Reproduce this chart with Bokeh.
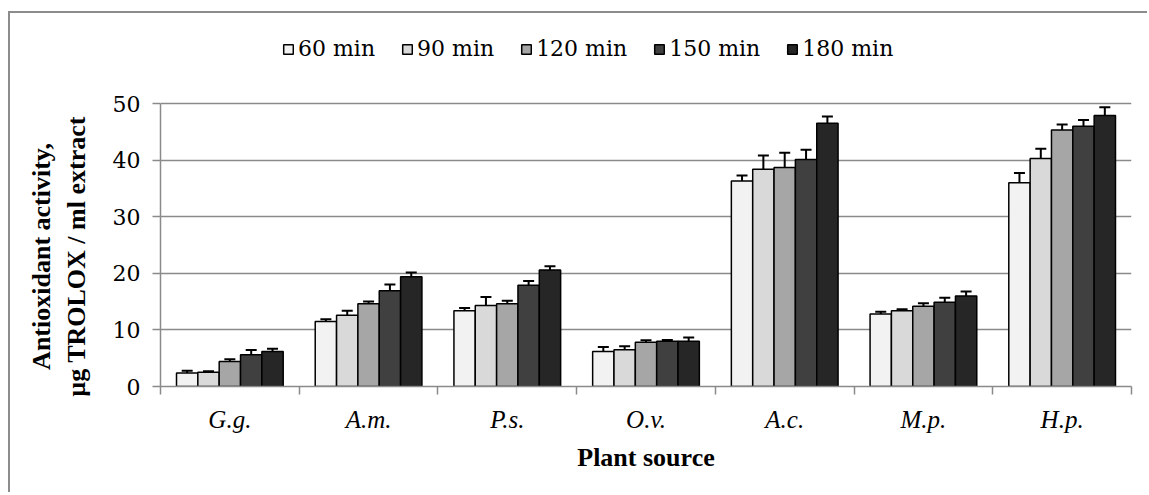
from bokeh.plotting import figure
from bokeh.models import ColumnDataSource, Whisker, TeeHead, Legend, LegendItem, FixedTicker, Range1d
from bokeh.embed import file_html
from bokeh.resources import INLINE

categories = ["G.g.", "A.m.", "P.s.", "O.v.", "A.c.", "M.p.", "H.p."]
series = ["60 min", "90 min", "120 min", "150 min", "180 min"]
colors = ["#f2f2f2", "#d9d9d9", "#a6a6a6", "#404040", "#262626"]

v60 = [2.4, 11.5, 13.4, 6.2, 36.3, 12.8, 36.0]
v90 = [2.5, 12.6, 14.3, 6.5, 38.4, 13.4, 40.3]
v120 = [4.4, 14.6, 14.6, 7.8, 38.7, 14.2, 45.3]
v150 = [5.6, 16.9, 17.9, 8.0, 40.1, 14.9, 46.0]
v180 = [6.2, 19.4, 20.6, 8.0, 46.5, 16.0, 47.9]

e60 = [0.4, 0.4, 0.45, 0.8, 1.0, 0.4, 1.7]
e90 = [0.2, 0.8, 1.5, 0.6, 2.4, 0.25, 1.7]
e120 = [0.4, 0.4, 0.55, 0.35, 2.6, 0.5, 1.0]
e150 = [0.85, 1.1, 0.75, 0.2, 1.75, 0.8, 1.1]
e180 = [0.45, 0.75, 0.65, 0.65, 1.2, 0.8, 1.45]

yticks = [0, 10, 20, 30, 40, 50]

values = [v60, v90, v120, v150, v180]
errors = [e60, e90, e120, e150, e180]

FONT = "Liberation Serif"
REG_FONT = "DejaVu Serif"
GRID = "#8a8a8a"

TOP_B, BOT_B, H = 9, 108, 481
frame_h = H - TOP_B - BOT_B
y_end = 50 * frame_h / 283.0

p = figure(width=1139, height=H, output_backend="svg", toolbar_location=None,
           x_range=Range1d(0, len(categories)), y_range=Range1d(0, y_end),
           min_border_left=150, min_border_right=18, min_border_top=TOP_B, min_border_bottom=BOT_B)
p.styles = {"border-top": "2px solid #8c8c8c", "border-left": "2px solid #8c8c8c",
            "margin-top": "11px", "margin-left": "8px"}
p.outline_line_color = None
p.background_fill_color = "white"
p.border_fill_color = "white"

bw = 1.0 / 6.5
items = []
for j, (name, col, vals, errs) in enumerate(zip(series, colors, values, errors)):
    xs = [i + 0.5 + (j - 2) * bw for i in range(len(categories))]
    src = ColumnDataSource(dict(x=xs, top=vals,
                                upper=[v + e for v, e in zip(vals, errs)],
                                lower=[v - e for v, e in zip(vals, errs)]))
    r = p.vbar(x="x", top="top", width=bw, bottom=0, source=src,
               fill_color=col, line_color="black", line_width=1.5)
    items.append(LegendItem(label=name, renderers=[r]))
    w = Whisker(base="x", upper="upper", lower="lower", source=src,
                line_color="black", line_width=2,
                upper_head=TeeHead(size=11, line_color="black", line_width=2),
                lower_head=TeeHead(size=11, line_color="black", line_width=2))
    p.add_layout(w)

# axes
p.yaxis.ticker = FixedTicker(ticks=yticks)
p.yaxis.bounds = (0, 50)
p.yaxis.axis_line_color = GRID
p.yaxis.axis_line_width = 1.5
p.yaxis.major_tick_line_color = GRID
p.yaxis.major_tick_line_width = 1.5
p.yaxis.major_tick_out = 8
p.yaxis.major_tick_in = 0
p.yaxis.minor_tick_line_color = None
p.yaxis.major_label_text_font = REG_FONT
p.yaxis.major_label_text_font_size = "22px"
p.yaxis.major_label_text_color = "black"
p.yaxis.major_label_standoff = 12
pad = "\u00a0" * 16
p.yaxis.axis_label = "Antioxidant activity," + pad + "\nµg TROLOX / ml extract" + pad
p.yaxis.axis_label_text_font = FONT
p.yaxis.axis_label_text_font_size = "26px"
p.yaxis.axis_label_text_font_style = "bold"
p.yaxis.axis_label_text_color = "black"
p.yaxis.axis_label_standoff = 19

centers = [i + 0.5 for i in range(len(categories))]
p.xaxis.ticker = FixedTicker(ticks=centers, minor_ticks=list(range(len(categories) + 1)))
p.xaxis.major_label_overrides = {c: lab for c, lab in zip(centers, categories)}
p.xaxis.axis_line_color = GRID
p.xaxis.axis_line_width = 1.5
p.xaxis.major_tick_line_color = None
p.xaxis.minor_tick_line_color = GRID
p.xaxis.minor_tick_line_width = 1.5
p.xaxis.minor_tick_out = 8
p.xaxis.minor_tick_in = 0
p.xaxis.major_label_text_font = FONT
p.xaxis.major_label_text_font_size = "25px"
p.xaxis.major_label_text_font_style = "italic"
p.xaxis.major_label_text_color = "black"
p.xaxis.major_label_standoff = 11
p.xaxis.axis_label = "Plant source"
p.xaxis.axis_label_text_font = FONT
p.xaxis.axis_label_text_font_size = "26px"
p.xaxis.axis_label_text_font_style = "bold"
p.xaxis.axis_label_text_color = "black"
p.xaxis.axis_label_standoff = 7

p.xgrid.grid_line_color = None
p.ygrid.ticker = FixedTicker(ticks=yticks)
p.ygrid.grid_line_color = GRID
p.ygrid.grid_line_width = 1.5

legend = Legend(items=items, orientation="horizontal", location=(122, 325),
                label_text_font=REG_FONT, label_text_font_size="22px", label_text_color="black",
                glyph_width=12, glyph_height=12, label_standoff=4, spacing=26,
                padding=0, margin=0, border_line_color=None, background_fill_alpha=0)
p.add_layout(legend, "center")

open("out.html", "w").write(file_html(p, INLINE))
